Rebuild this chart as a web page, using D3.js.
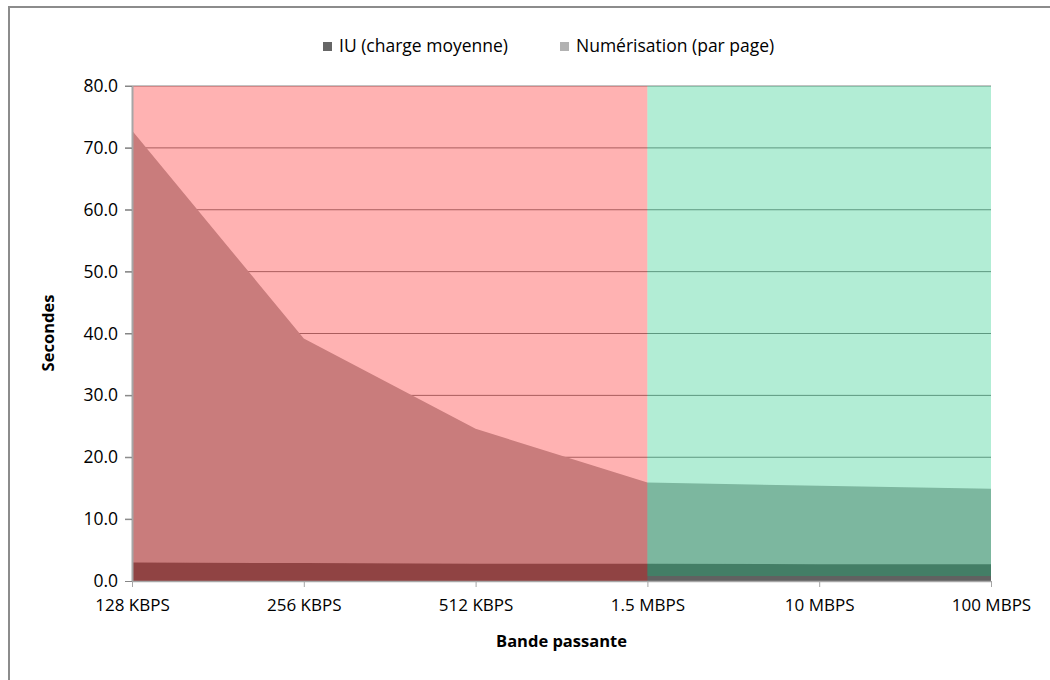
<!DOCTYPE html>
<html>
<head>
<meta charset="utf-8">
<script src="https://cdn.jsdelivr.net/npm/d3@7"></script>
<style>
  body { margin: 0; background: #fff; }
  svg text { font-family: "Open Sans", "Noto Sans", sans-serif; fill: #000; }
</style>
</head>
<body>
<div id="chart"></div>
<script>
const categories = ["128 KBPS", "256 KBPS", "512 KBPS", "1.5 MBPS", "10 MBPS", "100 MBPS"];
const iuValues = [3.0, 2.9, 2.8, 2.8, 2.7, 2.7];
const numerisationValues = [72.8, 39.2, 24.6, 15.9, 15.4, 14.9];
const yTicks = [0, 10, 20, 30, 40, 50, 60, 70, 80];
// coloured zones behind the curves: [first category, last category, low, high]
const slowZone = ["128 KBPS", "1.5 MBPS", 0, 80];
const fastZone = ["1.5 MBPS", "100 MBPS", 0.8, 80];

const width = 1050, height = 680;
const margin = { top: 86, right: 59, bottom: 99, left: 132 };
const innerW = width - margin.left - margin.right;
const innerH = height - margin.top - margin.bottom;

const svg = d3.select("#chart").append("svg")
  .attr("width", width)
  .attr("height", height);

// outer frame
svg.append("rect")
  .attr("x", 9).attr("y", 7)
  .attr("width", 1100).attr("height", 800)
  .attr("fill", "none")
  .attr("stroke", "#8c8c8c")
  .attr("stroke-width", 2);

const g = svg.append("g")
  .attr("transform", `translate(${margin.left}, ${margin.top})`);

const x = d3.scalePoint().domain(categories).range([0, innerW]);
const y = d3.scaleLinear().domain([0, 80]).range([innerH, 0]);

// gridlines
g.append("g")
  .selectAll("line")
  .data(yTicks.filter(d => d > 0))
  .enter()
  .append("line")
  .attr("x1", -7).attr("x2", innerW)
  .attr("y1", d => y(d)).attr("y2", d => y(d))
  .attr("stroke", "#868686")
  .attr("stroke-width", 1);

const area = d3.area()
  .x((d, i) => x(categories[i]))
  .y0(y(0))
  .y1(d => y(d));

g.append("path")
  .datum(numerisationValues)
  .attr("d", area)
  .attr("fill", "#b2b2b2");

g.append("path")
  .datum(iuValues)
  .attr("d", area)
  .attr("fill", "#616161");

function drawZone(zone, colour) {
  const x0 = x(zone[0]), x1 = x(zone[1]);
  g.append("rect")
    .attr("x", x0)
    .attr("y", y(zone[3]))
    .attr("width", x1 - x0)
    .attr("height", y(zone[2]) - y(zone[3]))
    .attr("fill", colour)
    .attr("fill-opacity", 0.3);
}
drawZone(slowZone, "#ff0000");
drawZone(fastZone, "#00c373");

// Y axis
const yAxis = g.append("g")
  .call(d3.axisLeft(y).tickValues(yTicks).tickFormat(d3.format(".1f")).tickSize(7).tickPadding(7));
yAxis.select(".domain").attr("stroke", "#a6a6a6").attr("stroke-width", 2)
  .attr("d", `M0.5,${innerH}V0`);
yAxis.selectAll(".tick line").attr("stroke", "#868686");
yAxis.selectAll("text").style("font-size", "17.5px").attr("fill", "#000");

// X axis
const xAxis = g.append("g")
  .attr("transform", `translate(0, ${innerH})`)
  .call(d3.axisBottom(x).tickSize(6).tickPadding(12));
xAxis.select(".domain").attr("stroke", "#a6a6a6").attr("stroke-width", 1.5)
  .attr("d", `M0,0.5H${innerW}`);
xAxis.selectAll(".tick line").attr("stroke", "#a6a6a6");
xAxis.selectAll("text").style("font-size", "17px").attr("fill", "#000");

// axis titles
svg.append("text")
  .attr("x", margin.left + innerW / 2)
  .attr("y", 647)
  .attr("text-anchor", "middle")
  .style("font-size", "16.5px")
  .style("font-weight", "bold")
  .text("Bande passante");

svg.append("text")
  .attr("transform", `translate(54, 333) rotate(-90)`)
  .attr("text-anchor", "middle")
  .style("font-size", "16.5px")
  .style("font-weight", "bold")
  .text("Secondes");

// legend
const legendItems = [
  { label: "IU (charge moyenne)", colour: "#666666", x: 323 },
  { label: "Numérisation (par page)", colour: "#b2b2b2", x: 560 }
];
const legend = svg.append("g");
legend.selectAll("rect")
  .data(legendItems)
  .enter()
  .append("rect")
  .attr("x", d => d.x).attr("y", 42)
  .attr("width", 9).attr("height", 9)
  .attr("fill", d => d.colour);
legend.selectAll("text")
  .data(legendItems)
  .enter()
  .append("text")
  .attr("x", d => d.x + 16)
  .attr("y", 46)
  .attr("dy", "0.35em")
  .style("font-size", "17.5px")
  .text(d => d.label);
</script>
</body>
</html>
